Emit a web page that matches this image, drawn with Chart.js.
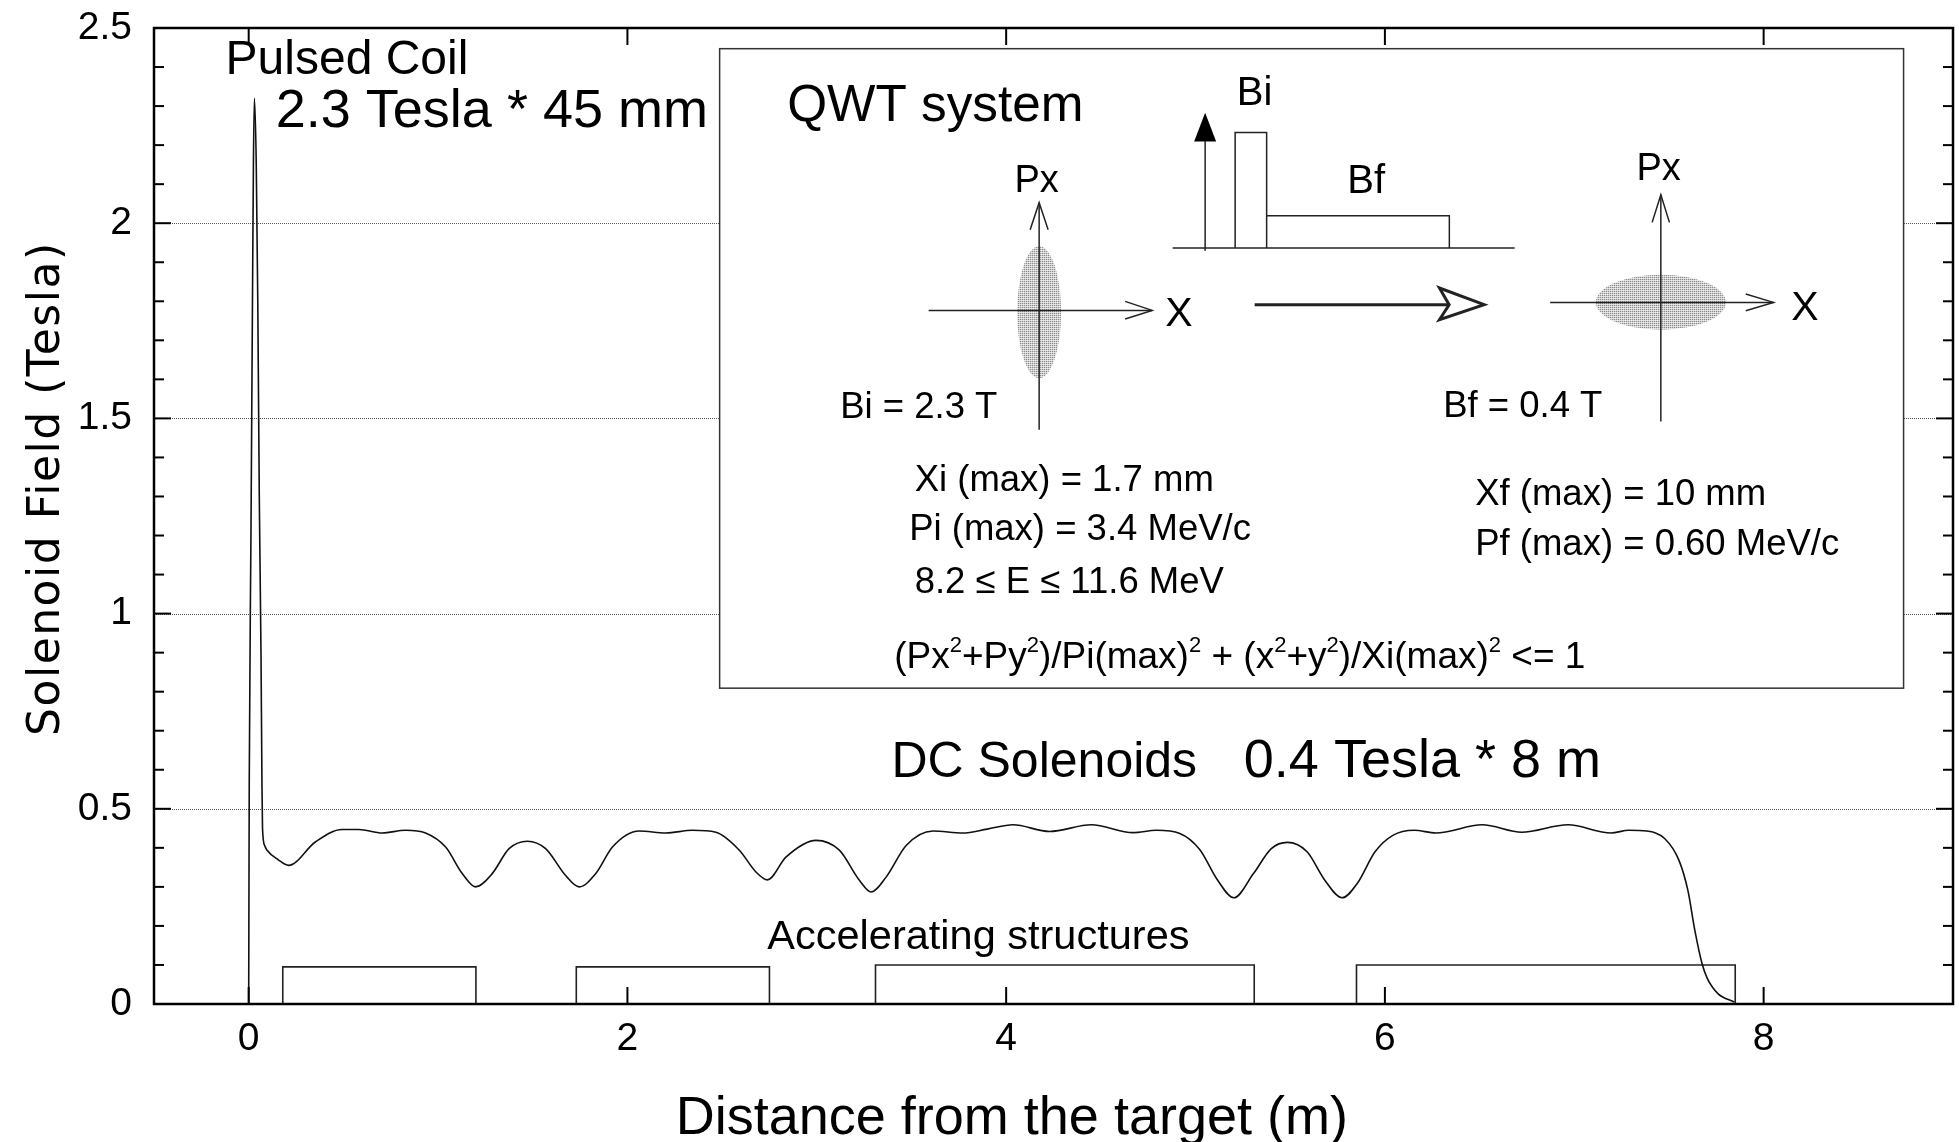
<!DOCTYPE html>
<html>
<head>
<meta charset="utf-8">
<script src="https://cdn.jsdelivr.net/npm/chart.js@4.4.1/dist/chart.umd.min.js"></script>
<style>
  html, body { margin: 0; padding: 0; background: #fff; }
  #wrap { width: 1959px; height: 1142px; }
</style>
</head>
<body>
<div id="wrap"><canvas id="chart" width="1959" height="1142"></canvas></div>
<script>
// ============ DATA ============

// solenoid field along the beam line (m, Tesla)
const fieldX = [0, 0.003, 0.012, 0.02, 0.025, 0.03, 0.04, 0.048, 0.056, 0.065,
    0.07, 0.073, 0.085, 0.097, 0.155, 0.211, 0.352, 0.493, 0.582, 0.705,
    0.828, 0.934, 1.040, 1.128, 1.198, 1.286, 1.375, 1.472, 1.568, 1.674,
    1.745, 1.833, 1.921, 2.062, 2.203, 2.344, 2.467, 2.591, 2.679, 2.740,
    2.837, 2.996, 3.119, 3.225, 3.287, 3.366, 3.472, 3.613, 3.771, 3.9,
    4.036, 4.229, 4.450, 4.670, 4.793, 4.917, 5.022, 5.117, 5.202, 5.306,
    5.400, 5.485, 5.589, 5.683, 5.774, 5.853, 5.948, 6.042, 6.155, 6.269,
    6.514, 6.722, 6.967, 7.194, 7.288, 7.382, 7.477, 7.553, 7.600, 7.637,
    7.675, 7.703, 7.760, 7.845];
const fieldB = [0, 0.57, 1.2, 1.8, 2.15, 2.32, 2.15, 1.8, 1.3, 0.9,
    0.57, 0.45, 0.405, 0.394, 0.37, 0.355, 0.415, 0.447, 0.447, 0.438,
    0.445, 0.438, 0.402, 0.334, 0.300, 0.334, 0.398, 0.417, 0.398, 0.329,
    0.300, 0.334, 0.402, 0.443, 0.438, 0.445, 0.440, 0.394, 0.338, 0.318,
    0.376, 0.419, 0.394, 0.317, 0.287, 0.325, 0.406, 0.443, 0.438, 0.448,
    0.459, 0.442, 0.459, 0.439, 0.445, 0.437, 0.396, 0.317, 0.272, 0.334,
    0.398, 0.414, 0.390, 0.317, 0.272, 0.308, 0.390, 0.432, 0.445, 0.438,
    0.459, 0.440, 0.459, 0.438, 0.445, 0.443, 0.424, 0.368, 0.291, 0.188,
    0.103, 0.065, 0.026, 0.005];

// accelerating structures (boxes on the axis)
const structStart = [0.18, 1.73, 3.31, 5.85];
const structEnd = [1.20, 2.75, 5.31, 7.85];
const structHeight = [0.095, 0.095, 0.10, 0.10];

// axes
const xTicks = [0, 2, 4, 6, 8];
const yTicks = [0, 0.5, 1, 1.5, 2, 2.5];
const yMinorTicks = [0.1, 0.2, 0.3, 0.4, 0.6, 0.7, 0.8, 0.9, 1.1, 1.2, 1.3, 1.4,
    1.6, 1.7, 1.8, 1.9, 2.1, 2.2, 2.3, 2.4];
const gridValues = [0.5, 1, 1.5, 2];
const xTitle = 'Distance from the target (m)';
const yTitle = 'Solenoid Field (Tesla)';

// ============ ANNOTATIONS ============

const FONT = 'Liberation Sans';
const notes = [
    { text: 'Pulsed Coil', x: -0.122, y: 2.381, size: 48 },
    { text: '2.3 Tesla * 45 mm', x: 0.143, y: 2.247, size: 54 },
    { text: 'DC Solenoids', x: 3.394, y: 0.581, size: 50 },
    { text: '0.4 Tesla * 8 m', x: 5.255, y: 0.581, size: 54 },
    { text: 'Accelerating structures', x: 2.739, y: 0.142, size: 41.5 }
];
const insetBox = { x0: 2.487, x1: 8.739, y0: 0.809, y1: 2.447 };

// ============ DRAW HELPERS ============

function txt(ctx, str, x, y, size, align, family) {
    ctx.font = size + 'px "' + (family || FONT) + '"';
    ctx.textAlign = align || 'left';
    ctx.textBaseline = 'alphabetic';
    ctx.fillStyle = '#000';
    ctx.fillText(str, x, y);
}

function path(ctx, pts, w, close) {
    ctx.beginPath();
    pts.forEach((p, i) => i ? ctx.lineTo(p[0], p[1]) : ctx.moveTo(p[0], p[1]));
    if (close) ctx.closePath();
    ctx.lineWidth = w || 1.5;
    ctx.stroke();
}

let stipple = null;
function stipplePattern(ctx) {
    if (stipple) return stipple;
    const c = document.createElement('canvas');
    c.width = 2; c.height = 2;
    const g = c.getContext('2d');
    g.fillStyle = '#fff'; g.fillRect(0, 0, 2, 2);
    g.fillStyle = '#222'; g.fillRect(0, 0, 1, 1);
    stipple = ctx.createPattern(c, 'repeat');
    return stipple;
}

function ellipse(ctx, cx, cy, rx, ry) {
    ctx.beginPath();
    ctx.ellipse(cx, cy, rx, ry, 0, 0, Math.PI * 2);
    ctx.fillStyle = stipplePattern(ctx);
    ctx.fill();
}

function formula(ctx, x, y) {
    const parts = [['(Px', 0], ['2', 1], ['+Py', 0], ['2', 1], [')/Pi(max)', 0], ['2', 1],
        [' + (x', 0], ['2', 1], ['+y', 0], ['2', 1], [')/Xi(max)', 0], ['2', 1], [' <= 1', 0]];
    let cx = x;
    parts.forEach(([s, sup]) => {
        txt(ctx, s, cx, sup ? y - 16 : y, sup ? 22 : 37);
        cx += ctx.measureText(s).width;
    });
}

// QWT diagram, coordinates relative to the box top-left corner
function drawInset(ctx, ox, oy, w, h) {
    ctx.save();
    ctx.fillStyle = '#fff';
    ctx.fillRect(ox, oy, w, h);
    ctx.strokeStyle = '#333';
    ctx.lineWidth = 1.5;
    ctx.strokeRect(ox, oy, w, h);
    ctx.translate(ox, oy);
    ctx.strokeStyle = '#222';

    txt(ctx, 'QWT system', 67.5, 72, 51.3);

    // initial phase space
    ellipse(ctx, 319.5, 263.5, 22, 66);
    txt(ctx, 'Px', 317, 143, 38, 'center');
    path(ctx, [[319.5, 154], [319.5, 381]]);
    path(ctx, [[310.5, 181], [319.5, 154], [328.5, 181]]);
    path(ctx, [[209, 261.7], [432.5, 261.7]]);
    path(ctx, [[405.5, 252.7], [432.5, 261.7], [405.5, 270.3]]);
    txt(ctx, 'X', 445.5, 277, 41);
    txt(ctx, 'Bi = 2.3 T', 120.5, 369, 36.5);

    // field profile sketch
    ctx.beginPath();
    ctx.moveTo(485.5, 64); ctx.lineTo(474.5, 92.7); ctx.lineTo(496.5, 92.7); ctx.closePath();
    ctx.fillStyle = '#000'; ctx.fill();
    path(ctx, [[485.5, 92], [485.5, 202]]);
    path(ctx, [[453, 199.3], [795, 199.3]]);
    path(ctx, [[515.5, 199.3], [515.5, 83.7], [547, 83.7], [547, 199.3]]);
    path(ctx, [[547, 167], [729.7, 167], [729.7, 199.3]]);
    txt(ctx, 'Bi', 535, 56, 40, 'center');
    txt(ctx, 'Bf', 646.5, 144, 40, 'center');

    // transfer arrow
    path(ctx, [[535, 256], [729.5, 256]], 3);
    path(ctx, [[719.8, 239.3], [764.5, 256], [719.8, 271], [729.5, 256]], 3, true);

    // final phase space
    ellipse(ctx, 941.2, 253.5, 65, 27.5);
    txt(ctx, 'Px', 939, 131, 38, 'center');
    path(ctx, [[941.2, 146], [941.2, 372.7]]);
    path(ctx, [[932.5, 173.7], [941.2, 146], [949.8, 173.7]]);
    path(ctx, [[830.5, 253.7], [1053.8, 253.7]]);
    path(ctx, [[1026.1, 245.3], [1053.8, 253.7], [1026.1, 262]]);
    txt(ctx, 'X', 1071.5, 271, 41);
    txt(ctx, 'Bf = 0.4 T', 723.5, 368, 36.5);

    // beam parameters
    txt(ctx, 'Xi (max) = 1.7 mm', 195, 442, 36.5);
    txt(ctx, 'Pi (max) = 3.4 MeV/c', 189.5, 491, 36.5);
    txt(ctx, '8.2 \u2264 E \u2264 11.6 MeV', 195, 544, 36.5);
    txt(ctx, 'Xf (max) = 10 mm', 755.5, 456, 36.5);
    txt(ctx, 'Pf (max) = 0.60 MeV/c', 755.5, 506, 36.5);
    formula(ctx, 174.5, 619);
    ctx.restore();
}

// ============ PLUGIN: frame, grid, ticks, notes ============

const framePlugin = {
    id: 'frame',
    beforeDatasetsDraw(chart) {
        const { ctx, chartArea: a, scales: { y } } = chart;
        ctx.save();
        ctx.strokeStyle = '#555';
        ctx.lineWidth = 1;
        ctx.setLineDash([1, 1]);
        gridValues.forEach(v => {
            const py = Math.round(y.getPixelForValue(v)) + 0.5;
            ctx.beginPath(); ctx.moveTo(a.left, py); ctx.lineTo(a.right, py); ctx.stroke();
        });
        ctx.restore();
    },
    afterDatasetsDraw(chart) {
        const { ctx, chartArea: a, scales: { x, y } } = chart;
        ctx.save();

        // inset
        const ox = x.getPixelForValue(insetBox.x0), oy = y.getPixelForValue(insetBox.y1);
        drawInset(ctx, ox, oy, x.getPixelForValue(insetBox.x1) - ox, y.getPixelForValue(insetBox.y0) - oy);

        // text notes
        notes.forEach(n => txt(ctx, n.text, x.getPixelForValue(n.x), y.getPixelForValue(n.y), n.size));

        // frame and inward ticks
        ctx.strokeStyle = '#000';
        ctx.lineWidth = 2.5;
        ctx.strokeRect(a.left, a.top, a.right - a.left, a.bottom - a.top);
        ctx.lineWidth = 2;
        const tick = (x1, y1, x2, y2) => { ctx.beginPath(); ctx.moveTo(x1, y1); ctx.lineTo(x2, y2); ctx.stroke(); };
        yTicks.forEach(v => {
            const py = y.getPixelForValue(v);
            tick(a.left, py, a.left + 17, py);
            tick(a.right, py, a.right - 17, py);
        });
        yMinorTicks.forEach(v => {
            const py = y.getPixelForValue(v);
            tick(a.left, py, a.left + 10, py);
            tick(a.right, py, a.right - 10, py);
        });
        xTicks.forEach(v => {
            const px = x.getPixelForValue(v);
            tick(px, a.bottom, px, a.bottom - 17);
            tick(px, a.top, px, a.top + 17);
        });

        // axis titles
        txt(ctx, xTitle, x.getPixelForValue(4.03), a.bottom + 130, 54, 'center');
        ctx.translate(59, y.getPixelForValue(1.32));
        ctx.rotate(-Math.PI / 2);
        if ('letterSpacing' in ctx) ctx.letterSpacing = '1.5px';
        txt(ctx, yTitle, 0, 0, 44, 'center', 'DejaVu Sans');
        ctx.restore();
    }
};

// ============ CHART ============

const datasets = [{
    label: 'Solenoid field',
    data: fieldX.map((v, i) => ({ x: v, y: fieldB[i] })),
    borderColor: '#111',
    borderWidth: 1.6,
    pointRadius: 0,
    showLine: true,
    fill: false,
    cubicInterpolationMode: 'monotone'
}];

structStart.forEach((s, i) => {
    datasets.push({
        label: 'Structure ' + (i + 1),
        data: [
            { x: s, y: 0 }, { x: s, y: structHeight[i] },
            { x: structEnd[i], y: structHeight[i] }, { x: structEnd[i], y: 0 }
        ],
        borderColor: '#222',
        borderWidth: 1.6,
        pointRadius: 0,
        showLine: true,
        fill: false,
        tension: 0
    });
});

const tickFont = { family: FONT, size: 39 };

new Chart(document.getElementById('chart').getContext('2d'), {
    type: 'scatter',
    data: { datasets },
    options: {
        responsive: false,
        animation: false,
        layout: { padding: { top: 28, right: 6, left: 0, bottom: 0 } },
        plugins: { legend: { display: false }, tooltip: { enabled: false } },
        scales: {
            x: {
                type: 'linear',
                min: -0.5,
                max: 9,
                afterBuildTicks: s => { s.ticks = xTicks.map(v => ({ value: v })); },
                afterFit: s => { s.height = 138; s.paddingLeft = 0; s.paddingRight = 0; },
                ticks: { font: tickFont, color: '#000', padding: 12, maxRotation: 0, callback: v => String(v) },
                grid: { display: false, drawTicks: false },
                border: { display: false }
            },
            y: {
                min: 0,
                max: 2.5,
                afterBuildTicks: s => { s.ticks = yTicks.map(v => ({ value: v })); },
                afterFit: s => { s.width = 154; s.paddingTop = 0; s.paddingBottom = 0; },
                ticks: { font: tickFont, color: '#000', padding: 22, callback: v => String(v) },
                grid: { display: false, drawTicks: false },
                border: { display: false }
            }
        }
    },
    plugins: [framePlugin]
});
</script>
</body>
</html>
